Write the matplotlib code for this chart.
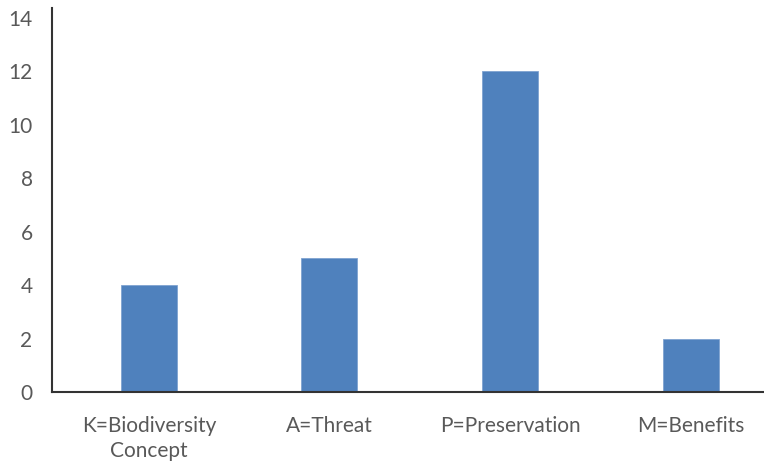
import numpy as np
import matplotlib.pyplot as plt

categories = ["K=Biodiversity\nConcept", "A=Threat", "P=Preservation", "M=Benefits"]
counts = [4, 5, 12, 2]
yticks = [0, 2, 4, 6, 8, 10, 12, 14]

plt.rcParams['font.family'] = ['Lato', 'DejaVu Sans']

fig = plt.figure(figsize=(7.64, 4.63), dpi=100)
ax = fig.add_axes([52 / 764, 71 / 463, 1 - 52 / 764, (392 - 8) / 463])

x = np.arange(len(categories))
ax.bar(x, counts, width=0.31, color="#4F81BD", edgecolor="#7FA3D1", linewidth=0.6)

ax.set_xlim(-0.537, 3.407)
ax.set_ylim(0, 14.37)
ax.set_yticks(yticks)
ax.set_xticks(x)
ax.set_xticklabels(categories, linespacing=1.35)

for s in ["top", "right"]:
    ax.spines[s].set_visible(False)
for s in ["left", "bottom"]:
    ax.spines[s].set_color("#333333")
    ax.spines[s].set_linewidth(1.5)

ax.tick_params(axis="both", length=0, labelsize=15, labelcolor="#595959")
ax.tick_params(axis="y", pad=14)
ax.tick_params(axis="x", pad=17)

fig.savefig("out.png", dpi=100)
